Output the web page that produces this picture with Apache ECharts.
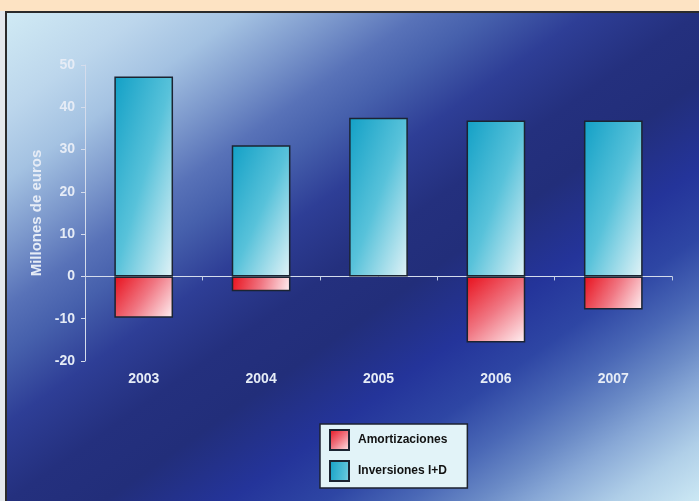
<!DOCTYPE html>
<html>
<head>
<meta charset="utf-8">
<script src="https://cdn.jsdelivr.net/npm/echarts@6/dist/echarts.min.js"></script>
<style>
  html, body { margin: 0; padding: 0; }
  body { width: 699px; height: 501px; background: #e4e8ec; position: relative; overflow: hidden; }
  #band { position: absolute; left: 0; top: 0; width: 699px; height: 11px; background: #fde3c3; }
  #panel {
    position: absolute; left: 5px; top: 11px; width: 692px; height: 488px;
    border-left: 2px solid #2b2b2b; border-top: 2px solid #2b2b2b;
    background: linear-gradient(to bottom right, #d0eaf4 0%, #bcd6ec 10%, #a4c2e2 17%, #7c98cc 24%,
      #5872b8 30%, #4660ac 35%, #2e3e96 42%, #24307e 50%, #222e7a 57%, #24349a 66%,
      #2e46a4 73%, #4a68b6 79%, #6a8ac6 84%, #88a8d6 88%, #b0cfe8 94%, #cce8f4 100%);
  }
  #main { width: 692px; height: 488px; }
</style>
</head>
<body>
<div id="band"></div>
<div id="panel"><div id="main"></div></div>
<script>
var categories = ['2003', '2004', '2005', '2006', '2007'];
var inversiones = [47.3, 31.0, 37.5, 36.9, 36.9];
var amortizaciones = [-9.8, -3.5, null, -15.6, -7.8];
var yTicks = { min: -20, max: 50, step: 10 };

var fontName = "'Liberation Sans', Arial, sans-serif";
var lightText = '#e6ecf6';

var cyanStops = [
    { offset: 0, color: '#12a0c6' },
    { offset: 0.5, color: '#58c2da' },
    { offset: 1, color: '#e2f3f7' }
];
var redFill = new echarts.graphic.LinearGradient(0, 0, 1, 1, [
    { offset: 0, color: '#e8101c' },
    { offset: 0.5, color: '#f07682' },
    { offset: 1, color: '#fff2f4' }
]);

// diagonal fill whose colour changes as much across the bar as down it
function diagFill(h, w, stops) {
    var k = 2 * w * h / (h * h + w * w);
    return new echarts.graphic.LinearGradient(0, 0, k * h / w, k * w / h, stops);
}

var myChart = echarts.init(document.getElementById('main'), null, { renderer: 'canvas' });

var option = {
    backgroundColor: 'transparent',
    animation: false,
    textStyle: { fontFamily: fontName },
    grid: { left: 78, right: 27, top: 52, bottom: 140 },
    legend: {
        data: ['Amortizaciones', 'Inversiones I+D'],
        orient: 'vertical',
        left: 313,
        top: 411,
        itemWidth: 19,
        itemHeight: 20,
        itemGap: 9,
        icon: 'rect',
        padding: [5, 20, 6, 9],
        backgroundColor: '#e2f3f8',
        borderColor: '#1c2230',
        borderWidth: 1.5,
        textStyle: { color: '#111', fontWeight: 'bold', fontSize: 12, fontFamily: fontName, padding: [0, 0, 0, 4] }
    },
    xAxis: [
        {
            type: 'category',
            data: categories,
            position: 'bottom',
            axisLine: { show: false, onZero: false },
            axisTick: { show: false },
            axisLabel: { color: lightText, fontWeight: 'bold', fontSize: 14, margin: 11 }
        },
        {
            type: 'category',
            data: categories,
            position: 'top',
            axisLine: { show: true, onZero: true, lineStyle: { color: '#d4dcec', width: 1 } },
            axisTick: { show: true, inside: true, length: 4, lineStyle: { color: '#c0cce4' } },
            axisLabel: { show: false }
        }
    ],
    yAxis: {
        type: 'value',
        min: yTicks.min,
        max: yTicks.max,
        interval: yTicks.step,
        name: 'Millones de euros',
        nameLocation: 'middle',
        nameGap: 37,
        nameTextStyle: { color: lightText, fontWeight: 'bold', fontSize: 15 },
        axisLine: { show: true, lineStyle: { color: '#d4dcec', width: 1 } },
        axisTick: { show: true, length: 4, lineStyle: { color: '#d4dcec' } },
        axisLabel: { color: lightText, fontWeight: 'bold', fontSize: 14, margin: 10 },
        splitLine: { show: false }
    },
    series: [
        {
            name: 'Inversiones I+D',
            type: 'bar',
            stack: 'total',
            xAxisIndex: 0,
            barWidth: '50%',
            data: inversiones,
            itemStyle: { color: new echarts.graphic.LinearGradient(0, 0, 1.7, 0.25, cyanStops), borderColor: '#1b2432', borderWidth: 1.5 }
        },
        {
            name: 'Amortizaciones',
            type: 'bar',
            stack: 'total',
            xAxisIndex: 0,
            barWidth: '50%',
            data: amortizaciones,
            itemStyle: { color: redFill, borderColor: '#1b2432', borderWidth: 1.5 }
        }
    ]
};

myChart.setOption(option);

// second pass: per-bar gradient shaped from the bar's size on screen
var pxPerUnit = Math.abs(myChart.convertToPixel({ yAxisIndex: 0 }, 0) - myChart.convertToPixel({ yAxisIndex: 0 }, 10)) / 10;
var barW = Math.abs(myChart.convertToPixel({ xAxisIndex: 0 }, 1) - myChart.convertToPixel({ xAxisIndex: 0 }, 0)) * 0.5;
var cyanData = inversiones.map(function (v) {
    return { value: v, itemStyle: { color: diagFill(Math.abs(v) * pxPerUnit, barW, cyanStops) } };
});
myChart.setOption({ series: [{ name: 'Inversiones I+D', data: cyanData }] });
</script>
</body>
</html>
